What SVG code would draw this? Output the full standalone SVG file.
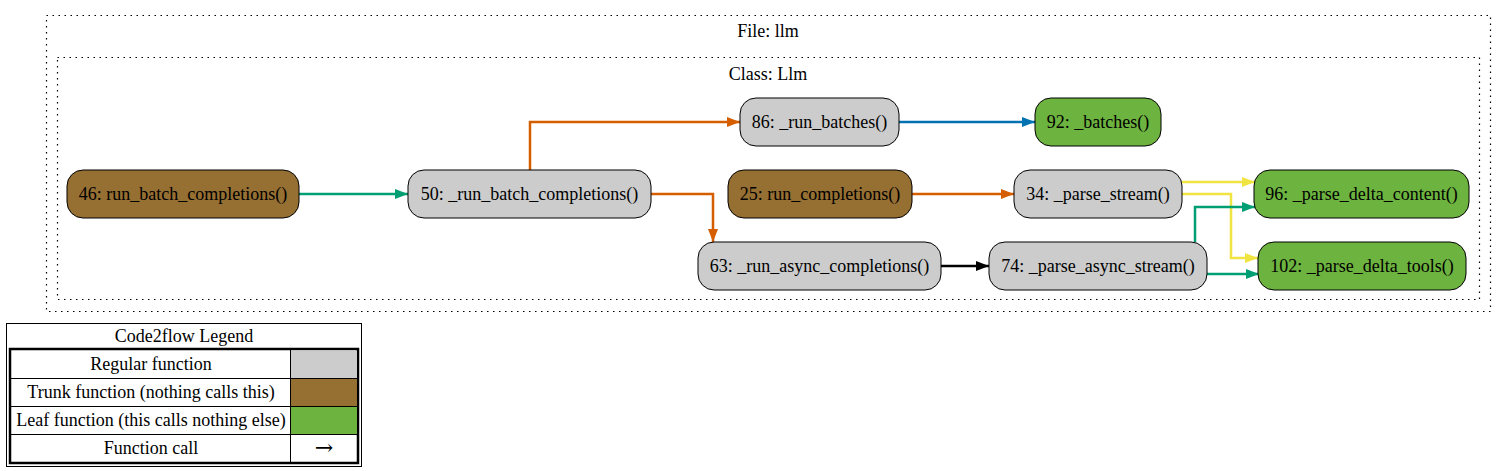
<svg xmlns="http://www.w3.org/2000/svg" width="1507" height="471" viewBox="0 0 1507 471">
<style>
  text { font-family: "Liberation Serif", "Times New Roman", serif; font-size: 18px; fill: #000; }
  .lbl { text-anchor: middle; }
  .arrow { font-family: "DejaVu Serif", "Liberation Serif", serif; font-size: 22px; }
  .cluster { fill: none; stroke: #000; stroke-width: 1.2; stroke-dasharray: 1.5 4.5; }
  .node rect { stroke: #000; stroke-width: 1; }
  .regular { fill: #cccccc; }
  .trunk { fill: #966f33; }
  .leaf { fill: #6db33f; }
  .edge { fill: none; stroke-width: 2.5; }
</style>
<defs>
  <marker id="a-orange" markerUnits="userSpaceOnUse" markerWidth="14" markerHeight="10" refX="13" refY="5" orient="auto"><path d="M0,0 L13,5 L0,10 z" fill="#d55e00"/></marker>
  <marker id="a-green" markerUnits="userSpaceOnUse" markerWidth="14" markerHeight="10" refX="13" refY="5" orient="auto"><path d="M0,0 L13,5 L0,10 z" fill="#009e73"/></marker>
  <marker id="a-blue" markerUnits="userSpaceOnUse" markerWidth="14" markerHeight="10" refX="13" refY="5" orient="auto"><path d="M0,0 L13,5 L0,10 z" fill="#0072b2"/></marker>
  <marker id="a-yellow" markerUnits="userSpaceOnUse" markerWidth="14" markerHeight="10" refX="13" refY="5" orient="auto"><path d="M0,0 L13,5 L0,10 z" fill="#f0e442"/></marker>
  <marker id="a-black" markerUnits="userSpaceOnUse" markerWidth="14" markerHeight="10" refX="13" refY="5" orient="auto"><path d="M0,0 L13,5 L0,10 z" fill="#000000"/></marker>
</defs>
<rect width="1507" height="471" fill="#ffffff"/>

<g id="cluster-file">
  <rect class="cluster" x="46.5" y="15.5" width="1444" height="296"/>
  <text class="lbl" x="768" y="37">File: llm</text>
</g>
<g id="cluster-class">
  <rect class="cluster" x="57.5" y="57.5" width="1422" height="242"/>
  <text class="lbl" x="768" y="80">Class: Llm</text>
</g>

<g id="connectors">
  <path class="edge" stroke="#009e73" marker-end="url(#a-green)" d="M299,194 L408,194"/>
  <path class="edge" stroke="#d55e00" marker-end="url(#a-orange)" d="M530,170 L530,122 L740,122"/>
  <path class="edge" stroke="#d55e00" marker-end="url(#a-orange)" d="M651,194 L713,194 L713,242"/>
  <path class="edge" stroke="#0072b2" marker-end="url(#a-blue)" d="M899,122 L1035,122"/>
  <path class="edge" stroke="#d55e00" marker-end="url(#a-orange)" d="M912,194 L1014,194"/>
  <path class="edge" stroke="#000000" marker-end="url(#a-black)" d="M941,266 L989,266"/>
  <path class="edge" stroke="#f0e442" marker-end="url(#a-yellow)" d="M1182,182 L1255,182"/>
  <path class="edge" stroke="#f0e442" marker-end="url(#a-yellow)" d="M1182,194 L1231,194 L1231,258 L1258,258"/>
  <path class="edge" stroke="#009e73" marker-end="url(#a-green)" d="M1195,242 L1195,207 L1255,207"/>
  <path class="edge" stroke="#009e73" marker-end="url(#a-green)" d="M1207,274 L1259,274"/>
</g>

<g id="node-46" class="node">
  <rect class="trunk" x="67" y="170" width="232" height="48" rx="16"/>
  <text class="lbl" x="183" y="200">46: run_batch_completions()</text>
</g>
<g id="node-50" class="node">
  <rect class="regular" x="408" y="170" width="243" height="48" rx="16"/>
  <text class="lbl" x="529.5" y="200">50: _run_batch_completions()</text>
</g>
<g id="node-86" class="node">
  <rect class="regular" x="740" y="98" width="159" height="48" rx="16"/>
  <text class="lbl" x="819.5" y="128">86: _run_batches()</text>
</g>
<g id="node-92" class="node">
  <rect class="leaf" x="1035" y="98" width="126" height="48" rx="16"/>
  <text class="lbl" x="1098" y="128">92: _batches()</text>
</g>
<g id="node-25" class="node">
  <rect class="trunk" x="728" y="170" width="184" height="48" rx="16"/>
  <text class="lbl" x="820" y="200">25: run_completions()</text>
</g>
<g id="node-34" class="node">
  <rect class="regular" x="1014" y="170" width="168" height="48" rx="16"/>
  <text class="lbl" x="1098" y="200">34: _parse_stream()</text>
</g>
<g id="node-96" class="node">
  <rect class="leaf" x="1254" y="170" width="215" height="48" rx="16"/>
  <text class="lbl" x="1361.5" y="200">96: _parse_delta_content()</text>
</g>
<g id="node-63" class="node">
  <rect class="regular" x="698" y="242" width="243" height="48" rx="16"/>
  <text class="lbl" x="819.5" y="272">63: _run_async_completions()</text>
</g>
<g id="node-74" class="node">
  <rect class="regular" x="989" y="242" width="218" height="48" rx="16"/>
  <text class="lbl" x="1098" y="272">74: _parse_async_stream()</text>
</g>
<g id="node-102" class="node">
  <rect class="leaf" x="1258" y="242" width="208" height="48" rx="16"/>
  <text class="lbl" x="1362" y="272">102: _parse_delta_tools()</text>
</g>

<g id="legend">
  <rect x="6.5" y="323.5" width="355" height="143" fill="#ffffff" stroke="#000" stroke-width="1"/>
  <text class="lbl" x="184" y="342">Code2flow Legend</text>
  <rect x="10" y="349" width="348" height="114" fill="none" stroke="#000" stroke-width="2.5"/>
  <rect x="291" y="351" width="66" height="27" fill="#cccccc"/>
  <rect x="291" y="379" width="66" height="27" fill="#966f33"/>
  <rect x="291" y="407" width="66" height="27" fill="#6db33f"/>
  <line x1="11" y1="378.5" x2="357" y2="378.5" stroke="#000" stroke-width="1"/>
  <line x1="11" y1="406.5" x2="357" y2="406.5" stroke="#000" stroke-width="1"/>
  <line x1="11" y1="434.5" x2="357" y2="434.5" stroke="#000" stroke-width="1"/>
  <line x1="290.5" y1="350" x2="290.5" y2="462" stroke="#000" stroke-width="1"/>
  <text class="lbl" x="151" y="370">Regular function</text>
  <text class="lbl" x="151" y="398">Trunk function (nothing calls this)</text>
  <text class="lbl" x="151" y="426">Leaf function (this calls nothing else)</text>
  <text class="lbl" x="151" y="454">Function call</text>
  <text class="lbl arrow" x="324" y="455">→</text>
</g>
</svg>
